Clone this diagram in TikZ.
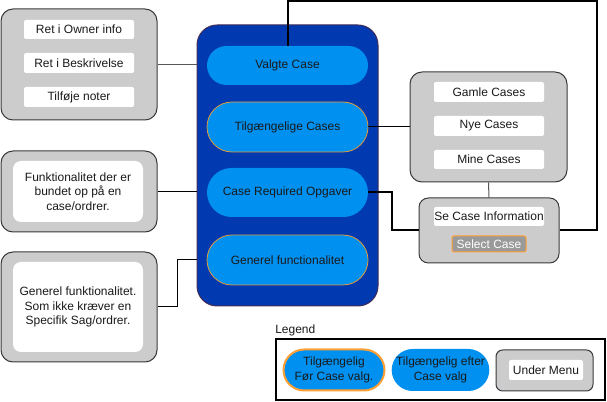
\documentclass[tikz,border=0pt]{standalone}
\usepackage{fontspec}
\setmainfont{Liberation Sans}
\usetikzlibrary{shapes.misc}
\definecolor{cont}{HTML}{0039B0}
\definecolor{contline}{HTML}{432D57}
\definecolor{pill}{HTML}{0090F0}
\definecolor{grayf}{HTML}{CCCCCC}
\definecolor{grayline}{HTML}{36393D}
\definecolor{orng}{HTML}{E09A3A}
\definecolor{orngb}{HTML}{FFA035}
\definecolor{txt}{HTML}{1A1A1A}
\definecolor{conn}{HTML}{555555}
\definecolor{selgray}{HTML}{9A9A9A}
\tikzset{
  sz/.style 2 args={minimum width=#1*0.75pt, minimum height=#2*0.75pt},
  base/.style={inner sep=0pt, align=center, font=\fontsize{9}{10.8}\selectfont, text=txt},
  grbox/.style={base, draw=grayline, fill=grayf, line width=0.75pt, rounded corners=9pt},
  wbox/.style={base, fill=white, rounded corners=1.5pt},
  wbig/.style={base, fill=white, rounded corners=6pt},
  cbox/.style={base, draw=contline, fill=cont, line width=0.75pt, rounded corners=15pt},
  pillbox/.style={base, rounded rectangle, fill=pill},
  opill/.style={pillbox, draw=orng, line width=0.6pt},
  thinconn/.style={draw=conn, line width=0.75pt},
  blkconn/.style={draw=black, line width=0.75pt},
  thickconn/.style={draw=black, line width=1.5pt},
}
\begin{document}
\begin{tikzpicture}[x=0.75pt, y=-0.75pt]
\useasboundingbox (0,0) rectangle (607,402);
% left boxes
\node[grbox, sz={156}{111}] (L1) at (79,64.5) {};
\node[wbox, sz={110}{19}] (L1a) at (79,29.5) {Ret i Owner info};
\node[wbox, sz={110}{20}] (L1b) at (79,63) {Ret i Beskrivelse};
\node[wbox, sz={110}{20}] (L1c) at (79,97) {Tilføje noter};
\node[grbox, sz={156}{81}] (L2) at (79,191.5) {};
\node[wbig, sz={130}{61}] (L2a) at (78,191.5) {Funktionalitet der er\\bundet op på en\\case/ordrer.};
\node[grbox, sz={156}{110}] (L3) at (79,307) {};
\node[wbig, sz={130}{90}] (L3a) at (78,307) {Generel funktionalitet.\\Som ikke kræver en\\Specifik Sag/ordrer.};
% container
\node[cbox, sz={181}{281}] (C) at (287.5,165.5) {};
\node[pillbox, sz={161}{39}] (P1) at (287.5,65.5) {Valgte Case};
\node[opill, sz={161}{50}] (P2) at (287.5,127) {Tilgængelige Cases};
\node[pillbox, sz={161}{49}] (P3) at (287.5,192.5) {Case Required Opgaver};
\node[opill, sz={161}{50}] (P4) at (287.5,260) {Generel functionalitet};
% right boxes
\node[grbox, sz={157}{110}] (R1) at (488.5,127) {};
\node[wbox, sz={110}{20}] (R1a) at (489,92) {Gamle Cases};
\node[wbox, sz={110}{20}] (R1b) at (489,126) {Nye Cases};
\node[wbox, sz={110}{19}] (R1c) at (489,159.5) {Mine Cases};
\node[grbox, sz={140}{65}, rounded corners=7pt] (R2) at (489,230.5) {};
\node[wbox, sz={110}{19}] (R2a) at (489,216.5) {Se Case Information};
\node[base, sz={74}{16}, fill=selgray, draw=orngb, line width=0.75pt, rounded corners=1.5pt, text=white] (R2b) at (489,244) {Select Case};
% legend
\node[base, anchor=west] (LT) at (275,330) {Legend};
\node[base, draw=black, line width=1.5pt, sz={329}{61}] (LB) at (440.5,369.5) {};
\node[pillbox, draw=orngb, line width=1.5pt, sz={101}{41}] (LP1) at (334,370) {Tilgængelig\\Før Case valg.};
\node[pillbox, sz={93}{42}] (LP2) at (440.5,370) {Tilgængelig efter\\Case valg};
\node[grbox, sz={97}{41}, rounded corners=5pt] (LG) at (544.5,370.5) {};
\node[wbox, sz={74}{20}] (LGa) at (546,370) {Under Menu};
% connectors
\coordinate (k3) at (177,307);
\coordinate (k1) at (392,230.5);
\coordinate (k2) at (597,1);
\draw[thinconn] (L1.east) -- (L1.east -| C.west);
\draw[blkconn] (L2.east) -- (L2.east -| C.west);
\draw[blkconn] (L3.east) -- (k3) |- (C.west |- P4.west);
\draw[blkconn] (P2.east) -- (R1.west);
\draw[thinconn] (R1.south) -- (R2.north);
\draw[thickconn] (P3.east) -| (k1) -- (R2.west);
\draw[thickconn] (R2.east) -| (k2) -| (P1.north);
\end{tikzpicture}
\end{document}
